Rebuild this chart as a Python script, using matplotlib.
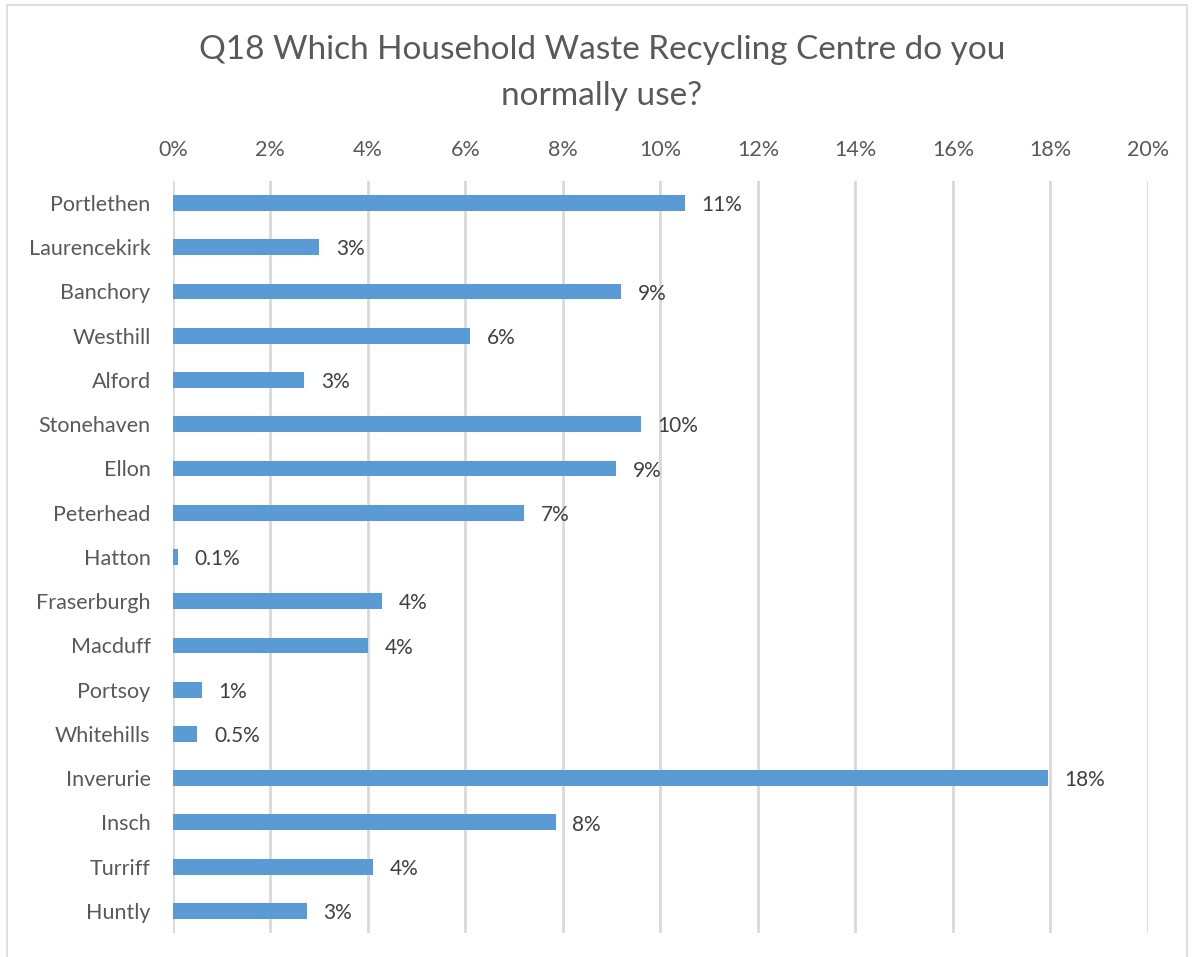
import matplotlib
matplotlib.use("Agg")
import matplotlib.pyplot as plt
from matplotlib.ticker import MultipleLocator, FuncFormatter
from matplotlib.patches import Rectangle

# Datos
centres = ["Portlethen", "Laurencekirk", "Banchory", "Westhill", "Alford",
           "Stonehaven", "Ellon", "Peterhead", "Hatton", "Fraserburgh",
           "Macduff", "Portsoy", "Whitehills", "Inverurie", "Insch",
           "Turriff", "Huntly"]
values = [10.5, 3.0, 9.2, 6.1, 2.7, 9.6, 9.1, 7.2, 0.1, 4.3,
          4.0, 0.6, 0.5, 17.95, 7.85, 4.1, 2.75]
labels = ["11%", "3%", "9%", "6%", "3%", "10%", "9%", "7%", "0.1%", "4%",
          "4%", "1%", "0.5%", "18%", "8%", "4%", "3%"]

plt.rcParams['font.family'] = ['Lato', 'DejaVu Sans']

fig = plt.figure(figsize=(11.92, 9.57), dpi=100)
ax = fig.add_axes([0.145, 0.025, 0.818, 0.786])

# Marco gris claro del gráfico
fig.patches.append(Rectangle((0.006, -0.01), 0.99, 1.005, transform=fig.transFigure,
                             fill=False, edgecolor="#D9D9D9", linewidth=1.2))

y = list(range(len(centres)))
ax.barh(y, values, height=0.36, color="#5B9BD5", zorder=3)
for yi, v, lab in zip(y, values, labels):
    ax.annotate(lab, (v, yi), xytext=(12, -1.5), textcoords="offset points",
                va="center", ha="left", fontsize=15, color="#404040")

ax.set_xlim(0, 20)
ax.set_ylim(len(centres) - 0.5, -0.5)
ax.set_yticks(y)
ax.set_yticklabels(centres)
ax.xaxis.set_major_locator(MultipleLocator(2))
ax.xaxis.set_major_formatter(FuncFormatter(lambda x, p: f"{x:.0f}%"))
ax.xaxis.tick_top()
ax.tick_params(axis="both", length=0, labelsize=15.5, labelcolor="#595959")
ax.tick_params(axis="x", pad=15)
ax.tick_params(axis="y", pad=16)
ax.grid(axis="x", color="#D9D9D9", linewidth=2, zorder=0)
for s in ax.spines.values():
    s.set_visible(False)

fig.text(0.505, 0.924, "Q18 Which Household Waste Recycling Centre do you\nnormally use?",
         ha="center", va="center", fontsize=24, color="#595959", linespacing=1.65)

fig.savefig("out.png", dpi=100)
